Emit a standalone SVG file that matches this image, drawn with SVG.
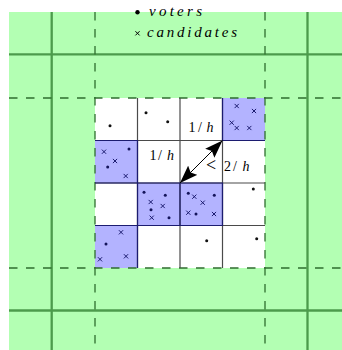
<svg xmlns="http://www.w3.org/2000/svg" width="342" height="350" viewBox="0 0 342 350">
<style>
.solid{stroke:#4c9b4c;stroke-width:2.3;fill:none}
.dash{stroke:#2f6e2f;stroke-width:1.3;fill:none;stroke-dasharray:8.5 8.5}
.wcell{fill:#ffffff;stroke:none}
.bcell{fill:#b3b3ff;stroke:none}
.grid{stroke:#4a4a4a;stroke-width:1.2;fill:none}
.bord{stroke:#1c1c70;stroke-width:1.2;fill:none}
.lbl{font-family:'Liberation Serif','DejaVu Serif',serif;font-size:14px;fill:#000}
.it{font-style:italic}
.lt{font-size:18px}
.leg{font-family:'Liberation Serif','DejaVu Serif',serif;font-size:15px;font-style:italic;fill:#000}
.vd{fill:#111}
.bd{fill:#14145a}
.cx{stroke:#1c1c70;stroke-width:1;fill:none}
</style>
<defs>
<path id="x" d="M-2.1,-2.1L2.1,2.1M-2.1,2.1L2.1,-2.1"/>
<marker id="ah" viewBox="0 0 18 13" refX="18" refY="6.5" markerWidth="18" markerHeight="13" markerUnits="userSpaceOnUse" orient="auto-start-reverse">
<path d="M0,0L18,6.5L0,13L3,6.5Z" fill="#000"/>
</marker>
</defs>
<g id="background">
<rect x="9" y="12" width="333" height="338" fill="#b3ffb3"/>
<rect class="wcell" x="95" y="98" width="170" height="170"/>
</g>
<g id="cells">
<rect class="bcell" x="222.5" y="98" width="42.5" height="42.5"/>
<rect class="bcell" x="95" y="140.5" width="42.5" height="42.5"/>
<rect class="bcell" x="137.5" y="183" width="85" height="42.5"/>
<rect class="bcell" x="95" y="225.5" width="42.5" height="42.5"/>
</g>
<g id="outer-lines">
<line class="solid" x1="51.7" y1="12" x2="51.7" y2="350"/>
<line class="solid" x1="307.5" y1="12" x2="307.5" y2="350"/>
<line class="solid" x1="9" y1="54.3" x2="342" y2="54.3"/>
<line class="solid" x1="9" y1="310.5" x2="342" y2="310.5"/>
<line class="dash" x1="95" y1="12" x2="95" y2="350"/>
<line class="dash" x1="265" y1="12" x2="265" y2="350"/>
<line class="dash" x1="9" y1="98" x2="342" y2="98"/>
<line class="dash" x1="9" y1="268" x2="342" y2="268"/>
</g>
<g id="grid">
<line class="grid" x1="137.5" y1="98" x2="137.5" y2="268"/>
<line class="grid" x1="180" y1="98" x2="180" y2="268"/>
<line class="grid" x1="222.5" y1="98" x2="222.5" y2="268"/>
<line class="grid" x1="95" y1="140.5" x2="265" y2="140.5"/>
<line class="grid" x1="95" y1="183" x2="265" y2="183"/>
<line class="grid" x1="95" y1="225.5" x2="265" y2="225.5"/>
<path class="bord" d="M222.5,98V140.5H265M95,140.5H137.5V183H95M137.5,183H222.5V225.5H137.5ZM180,183V225.5M95,225.5H137.5V268"/>
</g>
<g id="points">
<circle class="vd" cx="110" cy="125.7" r="1.5"/>
<circle class="vd" cx="146" cy="112.7" r="1.5"/>
<circle class="vd" cx="167.7" cy="121.7" r="1.5"/>
<circle class="vd" cx="253.3" cy="189" r="1.5"/>
<circle class="vd" cx="206.7" cy="240.7" r="1.5"/>
<circle class="vd" cx="256.7" cy="238.7" r="1.5"/>
<circle class="bd" cx="129" cy="149" r="1.5"/>
<circle class="bd" cx="107.7" cy="167" r="1.5"/>
<circle class="bd" cx="144" cy="192.3" r="1.5"/>
<circle class="bd" cx="165.3" cy="195.3" r="1.5"/>
<circle class="bd" cx="151" cy="209.7" r="1.5"/>
<circle class="bd" cx="169" cy="217.7" r="1.5"/>
<circle class="bd" cx="188.3" cy="193.3" r="1.5"/>
<circle class="bd" cx="214.3" cy="195.3" r="1.5"/>
<circle class="bd" cx="196" cy="214" r="1.5"/>
<circle class="bd" cx="106" cy="244" r="1.5"/>
<use href="#x" class="cx" x="236.7" y="106"/>
<use href="#x" class="cx" x="254" y="111"/>
<use href="#x" class="cx" x="231.7" y="122.7"/>
<use href="#x" class="cx" x="236.7" y="128"/>
<use href="#x" class="cx" x="249.3" y="128"/>
<use href="#x" class="cx" x="104" y="151.7"/>
<use href="#x" class="cx" x="115" y="161"/>
<use href="#x" class="cx" x="125.7" y="176"/>
<use href="#x" class="cx" x="150.7" y="202"/>
<use href="#x" class="cx" x="162.7" y="206"/>
<use href="#x" class="cx" x="151.7" y="217.7"/>
<use href="#x" class="cx" x="194.3" y="196.7"/>
<use href="#x" class="cx" x="202.7" y="202.7"/>
<use href="#x" class="cx" x="188.3" y="212.7"/>
<use href="#x" class="cx" x="214" y="214"/>
<use href="#x" class="cx" x="121" y="232.3"/>
<use href="#x" class="cx" x="126" y="256.3"/>
<use href="#x" class="cx" x="100" y="259.3"/>
</g>
<g id="connectors">
<line x1="222.5" y1="140.5" x2="180" y2="183" stroke="#000" stroke-width="1" marker-start="url(#ah)" marker-end="url(#ah)"/>
</g>
<g id="labels">
<text class="lbl" y="132"><tspan x="188.5">1</tspan><tspan x="198">/</tspan><tspan x="206.5" class="it">h</tspan></text>
<text class="lbl" y="160"><tspan x="149.5">1</tspan><tspan x="158">/</tspan><tspan x="167" class="it">h</tspan></text>
<text class="lbl" y="171"><tspan x="206" class="lt">&lt;</tspan><tspan x="224">2</tspan><tspan x="233">/</tspan><tspan x="242.5" class="it">h</tspan></text>
</g>
<g id="legend">
<circle cx="137.5" cy="12.3" r="2.2" fill="#000"/>
<text class="leg" x="149" y="15.5" textLength="53" lengthAdjust="spacing">voters</text>
<use href="#x" x="137.5" y="33.3" stroke="#000" stroke-width="1"/>
<text class="leg" x="147" y="36.5" textLength="90" lengthAdjust="spacing">candidates</text>
</g>
</svg>
